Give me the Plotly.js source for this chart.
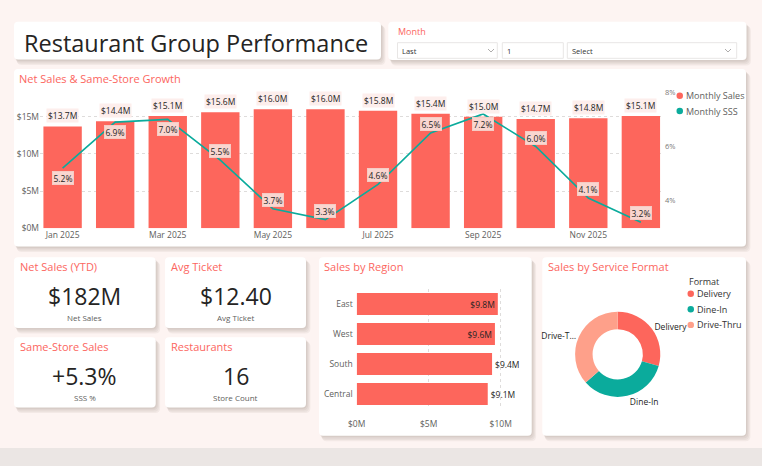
<!DOCTYPE html>
<html><head><meta charset="utf-8">
<script src="https://cdn.plot.ly/plotly-3.0.1.min.js"></script>
<style>html,body{margin:0;padding:0;background:#fdf4f2;} #chart{width:762px;height:466px;}</style>
</head><body><div id="chart"></div>
<script>
// ---------- DATA ----------
const months = ['Jan 2025','Feb 2025','Mar 2025','Apr 2025','May 2025','Jun 2025','Jul 2025','Aug 2025','Sep 2025','Oct 2025','Nov 2025','Dec 2025'];
const netSales = [13.7,14.4,15.1,15.6,16.0,16.0,15.8,15.4,15.0,14.7,14.8,15.1];   // $M
const sssPct = [5.2,6.9,7.0,5.5,3.7,3.3,4.6,6.5,7.2,6.0,4.1,3.2];                 // %
const seriesNames = ['Monthly Sales','Monthly SSS'];
const regions = ['East','West','South','Central'];
const regionSales = [9.8,9.6,9.4,9.1];                                            // $M
const formats = ['Delivery','Dine-In','Drive-Thru'];
const formatShare = [29.4,34.1,36.5];                                             // %
const kpiTitles = ['Net Sales (YTD)','Avg Ticket','Same-Store Sales','Restaurants'];
const kpiValues = ['$182M','$12.40','+5.3%','16'];
const kpiLabels = ['Net Sales','Avg Ticket','SSS %','Store Count'];
const salesTicks = [0,5,10,15];
const sssTicks = [4,6,8];
const regionTicks = [0,5,10];

// ---------- STYLE / HELPERS ----------
const W=762,H=466;
const X = p => p/W, Y = p => 1 - p/H;
const FONT = '"Open Sans", sans-serif';
const CORAL='#fd665c', TEAL='#0bab9c', SALMON='#fea08a', TITLE='#fc6660', DARK='#252423', GREY='#605e5c';

function rr(x0,y0,x1,y1,r){
  const P=(x,y)=>X(x).toFixed(5)+','+Y(y).toFixed(5);
  return 'M'+P(x0+r,y0)+' L'+P(x1-r,y0)+' Q'+P(x1,y0)+' '+P(x1,y0+r)+' L'+P(x1,y1-r)+' Q'+P(x1,y1)+' '+P(x1-r,y1)+
         ' L'+P(x0+r,y1)+' Q'+P(x0,y1)+' '+P(x0,y1-r)+' L'+P(x0,y0+r)+' Q'+P(x0,y0)+' '+P(x0+r,y0)+' Z';
}
const shapes = [];
const annotations = [];
// bottom grey strip
shapes.push({type:'rect',xref:'paper',yref:'paper',x0:0,x1:1,y0:0,y1:Y(448),fillcolor:'#ebe6e4',line:{width:0},layer:'below'});

const cards = [
  [14,21.7,381,59.5],[388.3,21.7,746.5,60],
  [14,69,746,246.5],
  [14,257.3,155.7,328],[165,257.3,306,328],[14,337.3,155.7,407.5],[165,337.3,306,407.5],
  [319,257.3,531.7,435.7],[542.3,257.3,746,435.7]
];
cards.forEach(c=>{
  for(let k=1;k<=4;k++){
    shapes.push({type:'path',xref:'paper',yref:'paper',path:rr(c[0]+k*0.7,c[1]+k*1.1,c[2]+k*1.1,c[3]+k*1.4,5),
      fillcolor:'rgba(70,50,45,0.055)',line:{width:0},layer:'below'});
  }
});
cards.forEach(c=>{
  shapes.push({type:'path',xref:'paper',yref:'paper',path:rr(c[0],c[1],c[2],c[3],4),fillcolor:'#ffffff',line:{width:0},layer:'below'});
});
// filter boxes
[[397.5,42.7,497.3,58.3],[502.3,42.7,563.3,58.3],[567.3,42.7,736.7,58.3]].forEach(b=>{
  shapes.push({type:'rect',xref:'paper',yref:'paper',x0:X(b[0]),x1:X(b[2]),y0:Y(b[3]),y1:Y(b[1]),fillcolor:'#ffffff',line:{color:'#e8e6e5',width:1},layer:'below'});
});
[491,728].forEach(cx=>{
  const cy=50.5;
  shapes.push({type:'path',xref:'paper',yref:'paper',path:'M'+X(cx-3)+','+Y(cy-1.5)+' L'+X(cx)+','+Y(cy+1.5)+' L'+X(cx+3)+','+Y(cy-1.5),line:{color:'#9a9897',width:0.8}});
});

function txt(x,y,text,size,color,xanchor,extra){
  annotations.push(Object.assign({xref:'paper',yref:'paper',x:X(x),y:Y(y),text:text,showarrow:false,xanchor:xanchor||'left',yanchor:'middle',
    font:{family:FONT,size:size,color:color}},extra||{}));
}
txt(22,42.5,'Restaurant Group Performance',23.5,DARK);
txt(396,31.5,'Month',9,TITLE);
txt(400,50.5,'Last',7.5,'#333');
txt(505,50.5,'1',7.5,'#333');
txt(570,50.5,'Select',7.5,'#333');
txt(17,78,'Net Sales &amp; Same-Store Growth',11,TITLE);
txt(322,266,'Sales by Region',11,TITLE);
txt(546,266,'Sales by Service Format',11,TITLE);
const kpiPos = [[14,257.3,155.7],[165,257.3,306],[14,337.3,155.7],[165,337.3,306]];
kpiPos.forEach((p,i)=>{
  txt(p[0]+4,p[1]+9,kpiTitles[i],11,TITLE);
  txt((p[0]+p[2])/2,p[1]+38.5,kpiValues[i],23,DARK,'center');
  txt((p[0]+p[2])/2,p[1]+60,kpiLabels[i],8,GREY,'center');
});
// custom legends
const legColors=[CORAL,TEAL];
seriesNames.forEach((n,i)=>{
  const cy=95.7+i*15.3;
  shapes.push({type:'circle',xref:'paper',yref:'paper',x0:X(676.5),x1:X(683),y0:Y(cy+3.2),y1:Y(cy-3.2),fillcolor:legColors[i],line:{width:0}});
  txt(684,cy,n,9,GREY);
});
txt(686.5,281,'Format',9,'#333');
const fmtColors=[CORAL,TEAL,SALMON];
formats.forEach((f,i)=>{
  const cy=293.7+i*15.6;
  shapes.push({type:'circle',xref:'paper',yref:'paper',x0:X(687.5),x1:X(694),y0:Y(cy+3.2),y1:Y(cy-3.2),fillcolor:fmtColors[i],line:{width:0}});
  txt(695,cy,f,9,'#333');
});

// data labels on main chart
const fmtM = v => '$'+v.toFixed(1)+'M';
netSales.forEach((v,i)=>{
  annotations.push({xref:'x',yref:'y',x:months[i],y:v,text:fmtM(v),showarrow:false,yanchor:'bottom',yshift:3,
    bgcolor:'#fdeeec',borderpad:1,font:{family:FONT,size:8.5,color:DARK}});
});
const sssLabelBelow = [true,true,true,false,false,false,false,false,true,false,false,false];
sssPct.forEach((v,i)=>{
  annotations.push({xref:'x',yref:'y2',x:months[i],y:v,text:v.toFixed(1)+'%',showarrow:false,yanchor:'middle',yshift:sssLabelBelow[i]?-9.5:9,
    bgcolor:'#f9d6d0',bordercolor:'#f6cbc4',borderwidth:1,borderpad:0.5,font:{family:FONT,size:8.5,color:DARK}});
});

// ---------- TRACES ----------
const traces = [
  {type:'bar',x:months,y:netSales,name:seriesNames[0],marker:{color:CORAL},width:0.73,xaxis:'x',yaxis:'y',showlegend:false,hoverinfo:'skip'},
  {type:'scatter',mode:'lines',x:months,y:sssPct,name:seriesNames[1],line:{color:TEAL,width:1.6},xaxis:'x',yaxis:'y2',showlegend:false,hoverinfo:'skip'},
  {type:'bar',orientation:'h',x:regionSales,y:regions,xaxis:'x3',yaxis:'y3',marker:{color:CORAL},width:0.74,
    text:regionSales.map(fmtM),textposition:regionSales.map(v=>v>=9.5?'inside':'outside'),insidetextanchor:'end',
    textfont:{family:FONT,size:8.5,color:DARK},insidetextfont:{family:FONT,size:8.5,color:DARK},outsidetextfont:{family:FONT,size:8.5,color:DARK},
    constraintext:'none',cliponaxis:false,showlegend:false,hoverinfo:'skip'},
  {type:'pie',labels:formats,values:formatShare,hole:0.59,sort:false,direction:'clockwise',rotation:0,
    marker:{colors:fmtColors},text:formats.map(f=>f.length>8?f.slice(0,7)+'…':f),textinfo:'text',textposition:'outside',
    textfont:{family:FONT,size:8.5,color:DARK},showlegend:false,hoverinfo:'skip',
    domain:{x:[X(575.1),X(660.3)],y:[Y(396.9),Y(311.7)]}}
];

const axFont = {family:FONT,size:8.5,color:GREY};
const layout = {
  width:W,height:H,margin:{l:0,r:0,t:0,b:0},paper_bgcolor:'#fdf4f2',plot_bgcolor:'rgba(0,0,0,0)',
  font:{family:FONT},showlegend:false,bargap:0.27,
  xaxis:{domain:[X(40),X(664)],range:[-0.43,11.44],type:'category',tickvals:months.filter((m,i)=>i%2===0),
    tickfont:axFont,showgrid:false,zeroline:false,showline:false,ticks:'',anchor:'y',fixedrange:true},
  yaxis:{domain:[Y(228.3),Y(88)],range:[0,18.86],tickvals:salesTicks,ticktext:salesTicks.map(v=>'$'+v+'M'),
    tickfont:axFont,gridcolor:'#dedcdb',griddash:'dot',gridwidth:1,zeroline:false,showline:false,anchor:'x'},
  yaxis2:{overlaying:'y',side:'right',anchor:'x',range:[2.98,8.16],tickvals:sssTicks,ticktext:sssTicks.map(v=>v+'%'),
    tickfont:{family:FONT,size:7.5,color:'#7a7877'},showgrid:false,zeroline:false,showline:false},
  xaxis3:{domain:[X(356.7),X(515.1)],range:[0,11],tickvals:regionTicks,ticktext:regionTicks.map(v=>'$'+v+'M'),anchor:'y3',
    tickfont:axFont,gridcolor:'#dedcdb',griddash:'dot',zeroline:false,showline:false,ticklabelstandoff:8},
  yaxis3:{domain:[Y(409),Y(289)],type:'category',autorange:'reversed',anchor:'x3',tickfont:axFont,
    showgrid:false,zeroline:false,showline:false,ticklabelstandoff:3},
  shapes:shapes,annotations:annotations
};
Plotly.newPlot('chart',traces,layout,{staticPlot:true,displayModeBar:false});
</script></body></html>
